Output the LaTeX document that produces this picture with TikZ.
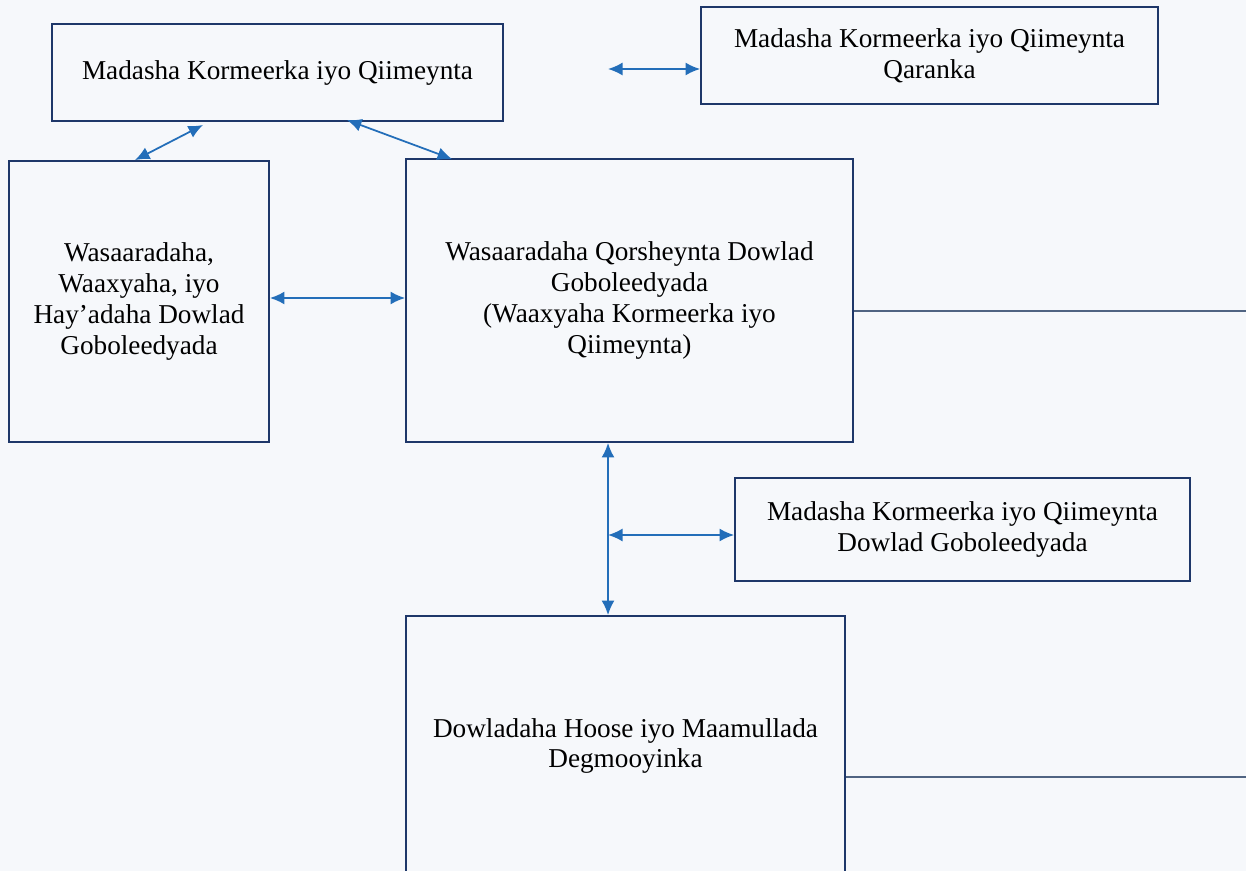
\documentclass[tikz,border=0pt]{standalone}
\usepackage{fontspec}
\setmainfont{Liberation Serif}
\usetikzlibrary{arrows.meta}
\definecolor{boxline}{RGB}{30,55,105}
\definecolor{arrowblue}{RGB}{35,110,185}
\definecolor{plainline}{RGB}{80,100,130}
\definecolor{paper}{RGB}{246,248,251}

\begin{document}
\begin{tikzpicture}[
			x=0.02cm, y=-0.02cm,
			every node/.style={font=\fontsize{15.5}{17.6}\selectfont, align=center},
			box/.style={draw=boxline, line width=1.1pt, rectangle, inner sep=0pt},
			link/.style={arrowblue, line width=1pt, {Latex[length=2.9mm,width=2.6mm]}-{Latex[length=2.9mm,width=2.6mm]}},
			rule/.style={plainline, line width=0.9pt}
			]
			\fill[paper] (0,0) rectangle (1246,871);
			\useasboundingbox (0,0) rectangle (1246,871);
			\node[box, minimum width=9.02cm, minimum height=1.94cm] (madasha) at (277.5,72.5) {Madasha Kormeerka iyo Qiimeynta};
			\node[box, minimum width=9.14cm, minimum height=1.94cm] (qaranka) at (929.5,55.5) {Madasha Kormeerka iyo Qiimeynta\\Qaranka};
			\node[box, minimum width=5.2cm, minimum height=5.62cm] (wasaarad) at (139,301.5) {Wasaaradaha,\\Waaxyaha, iyo\\Hay'adaha Dowlad\\Goboleedyada};
			\node[box, minimum width=8.94cm, minimum height=5.66cm] (qorsheyn) at (629.5,300.5) {Wasaaradaha Qorsheynta Dowlad\\Goboleedyada\\(Waaxyaha Kormeerka iyo\\Qiimeynta)};
			\node[box, minimum width=9.1cm, minimum height=2.06cm] (goboleed) at (962.5,529.5) {Madasha Kormeerka iyo Qiimeynta\\Dowlad Goboleedyada};
			\node[box, minimum width=8.78cm, minimum height=5.2cm] (hoose) at (625.5,746) {Dowladaha Hoose iyo Maamullada\\Degmooyinka};

			\coordinate (qaranin) at (608,69);
			\coordinate (leftup) at (203,125);
			\coordinate (rightup) at (347,120);
			\coordinate (rightdown) at (452,159);
			\coordinate (spine) at (608,0);
			\coordinate (qorout) at (1246,311);
			\coordinate (hooseout) at (1246,777);

			\draw[link] (qaranin) -- (qaranin -| qaranka.west);
			\draw[link] (leftup) -- (wasaarad.north -| 135,0);
			\draw[link] (rightup) -- (rightdown);
			\draw[link] (wasaarad.east |- 0,298) -- (qorsheyn.west |- 0,298);
			\draw[link] (qorsheyn.south -| spine) -- (hoose.north -| spine);
			\draw[link] (spine |- 0,535) -- (goboleed.west |- 0,535);
			\draw[rule] (qorsheyn.east |- qorout) -- (qorout);
			\draw[rule] (hoose.east |- hooseout) -- (hooseout);
		\end{tikzpicture}
\end{document}
